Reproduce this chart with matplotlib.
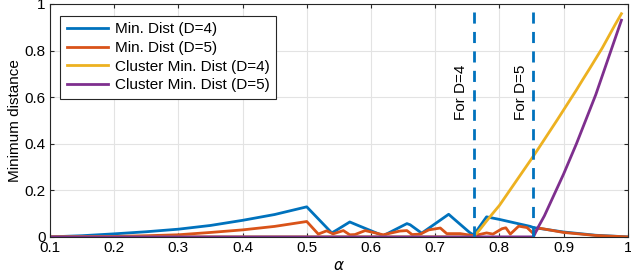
import numpy as np
import matplotlib
matplotlib.use("Agg")
import matplotlib.pyplot as plt

plt.rcParams['font.family'] = ['Liberation Sans', 'DejaVu Sans']
plt.rcParams['font.size'] = 11

# Min. Dist (D=4)
a_d4 = [0.10, 0.15, 0.20, 0.25, 0.30, 0.35, 0.40, 0.45, 0.50,
        0.539, 0.547, 0.567, 0.580, 0.619, 0.656, 0.661, 0.679, 0.721, 0.728,
        0.754, 0.760, 0.780, 0.800, 0.848, 0.853, 0.900, 0.950, 1.00]
d_d4 = [0.0, 0.005, 0.013, 0.022, 0.033, 0.049, 0.071, 0.096, 0.129,
        0.017, 0.030, 0.064, 0.049, 0.005, 0.057, 0.052, 0.016, 0.097, 0.080,
        0.018, 0.008, 0.086, 0.075, 0.045, 0.040, 0.021, 0.007, 0.0]

# Min. Dist (D=5)
a_d5 = [0.10, 0.15, 0.20, 0.25, 0.30, 0.35, 0.40, 0.45, 0.50,
        0.518, 0.531, 0.541, 0.557, 0.567, 0.575, 0.591, 0.619, 0.645, 0.656,
        0.664, 0.677, 0.690, 0.708, 0.718, 0.739, 0.760, 0.780, 0.790, 0.804,
        0.810, 0.817, 0.830, 0.843, 0.853, 0.861, 0.900, 0.950, 1.00]
d_d5 = [0.0, 0.001, 0.002, 0.005, 0.009, 0.019, 0.030, 0.045, 0.066,
        0.012, 0.026, 0.013, 0.027, 0.009, 0.010, 0.027, 0.009, 0.025, 0.027,
        0.010, 0.012, 0.030, 0.038, 0.014, 0.014, 0.005, 0.017, 0.012, 0.035,
        0.039, 0.012, 0.046, 0.040, 0.014, 0.038, 0.019, 0.006, 0.0]

# Cluster Min. Dist (D=4)
a_c4 = [0.10, 0.76, 0.77, 0.78, 0.79, 0.80, 0.81, 0.82, 0.83, 0.84, 0.85,
        0.86, 0.87, 0.88, 0.89, 0.90, 0.91, 0.92, 0.93, 0.94, 0.95, 0.96,
        0.97, 0.98, 0.99]
d_c4 = [0.0, 0.0, 0.033, 0.068, 0.102, 0.135, 0.175, 0.215, 0.255, 0.295, 0.335,
        0.376, 0.418, 0.460, 0.502, 0.545, 0.588, 0.631, 0.676, 0.720, 0.765, 0.810,
        0.860, 0.910, 0.958]

# Cluster Min. Dist (D=5)
a_c5 = [0.10, 0.845, 0.853, 0.86, 0.87, 0.88, 0.89, 0.90, 0.91, 0.92, 0.93,
        0.94, 0.95, 0.96, 0.97, 0.98, 0.99]
d_c5 = [0.0, 0.0, 0.0, 0.04, 0.09, 0.15, 0.21, 0.27, 0.335, 0.40, 0.47,
        0.54, 0.61, 0.69, 0.77, 0.85, 0.93]

thresholds = [0.76, 0.853]
thr_labels = ['For D=4', 'For D=5']

colors = ['#0072BD', '#D95319', '#EDB120', '#7E2F8E']

fig = plt.figure(figsize=(6.31, 2.80), dpi=100)
ax = fig.add_axes([0.079, 0.154, 0.916, 0.832])

ax.plot(a_d4, d_d4, color=colors[0], lw=2, label='Min. Dist (D=4)')
ax.plot(a_d5, d_d5, color=colors[1], lw=2, label='Min. Dist (D=5)')
ax.plot(a_c4, d_c4, color=colors[2], lw=2, label='Cluster Min. Dist (D=4)')
ax.plot(a_c5, d_c5, color=colors[3], lw=2, label='Cluster Min. Dist (D=5)')

for t, lab in zip(thresholds, thr_labels):
    ax.plot([t, t], [0, 0.97], color=colors[0], lw=2, ls=(0, (4, 3)))
    ax.text(t - 0.02, 0.62, lab, rotation=90, ha='center', va='center')

ax.set_xlim(0.1, 1)
ax.set_ylim(0, 1)
ax.set_xticks(np.arange(0.1, 1.01, 0.1))
ax.set_xticklabels(['0.1', '0.2', '0.3', '0.4', '0.5', '0.6', '0.7', '0.8', '0.9', '1'])
ax.set_yticks(np.arange(0, 1.01, 0.2))
ax.set_yticklabels(['0', '0.2', '0.4', '0.6', '0.8', '1'])
ax.grid(True, color='#e3e3e3', lw=0.8)
ax.set_axisbelow(True)
ax.tick_params(direction='in', top=True, right=True, length=3, color='#262626', pad=3)
for s in ax.spines.values():
    s.set_color('#262626')
    s.set_linewidth(0.8)

ax.set_xlabel(r'$\alpha$', labelpad=3)
ax.set_ylabel('Minimum distance', labelpad=2)

leg = ax.legend(loc='upper left', bbox_to_anchor=(0.017, 0.95), handlelength=2.7,
                fancybox=False, framealpha=1, edgecolor='#262626',
                borderpad=0.45, labelspacing=0.3, handletextpad=0.45, borderaxespad=0)
leg.get_frame().set_linewidth(0.8)

fig.savefig('out.png', dpi=100)
